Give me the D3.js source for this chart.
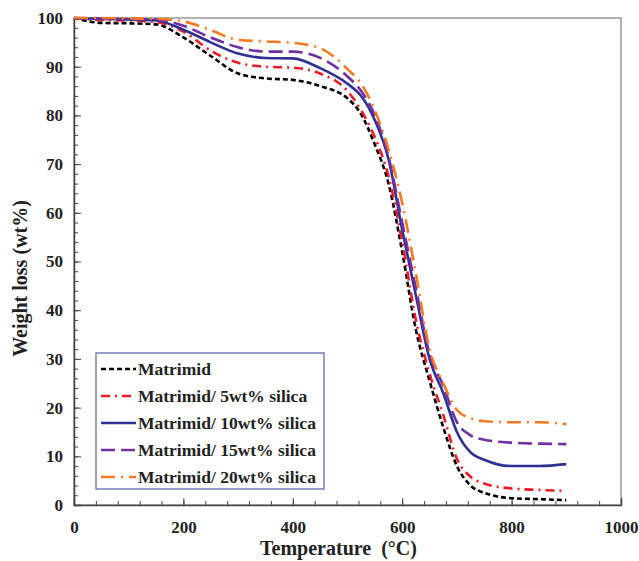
<!DOCTYPE html>
<html>
<head>
<meta charset="utf-8">
<script src="https://cdn.jsdelivr.net/npm/d3@7"></script>
<style>
  body { margin: 0; background: #fff; }
  text { font-family: "Liberation Serif", "Times New Roman", serif; font-weight: bold; }
</style>
</head>
<body>
<div id="chart"></div>
<script>
// temperature grid (°C)
var temps = [0, 50, 100, 150, 200, 250, 300, 350, 400, 450, 500, 525, 550, 575, 600, 625, 650, 675, 700, 725, 750, 800, 850, 900];

// weight (wt%) for each sample
var matrimid = [100, 99, 98.9, 98.7, 96, 92.2, 88.6, 87.6, 87.3, 86, 83.5, 80.2, 74, 66, 52, 36, 25.5, 16, 8, 4, 2.5, 1.4, 1.2, 1.0];
var silica5  = [100, 99.6, 99.5, 99.2, 97.2, 93.3, 90.8, 90, 89.8, 88.6, 85, 81, 75.5, 67.5, 54, 38, 27, 18.5, 9.5, 5.8, 4.4, 3.4, 3.1, 2.9];
var silica10 = [100, 99.8, 99.7, 99.5, 97.6, 95, 92.7, 91.8, 91.7, 89.7, 86.5, 84, 79, 71, 56.5, 43, 30, 23, 15, 10.8, 9.3, 8.0, 8.0, 8.4];
var silica15 = [100, 99.9, 99.8, 99.7, 98.4, 96, 94, 93.1, 93.1, 91.8, 88, 85, 80, 71.5, 58, 44.5, 31, 24.5, 17, 14.3, 13.4, 12.8, 12.6, 12.5];
var silica20 = [100, 100, 99.9, 99.8, 99.3, 97.5, 95.5, 95.2, 94.9, 93.8, 89.5, 86.5, 81, 73, 62, 47.5, 32, 25, 19.5, 17.8, 17.2, 17, 17, 16.6];

var seriesNames = ["Matrimid", "Matrimid/ 5wt% silica", "Matrimid/ 10wt% silica", "Matrimid/ 15wt% silica", "Matrimid/ 20wt% silica"];
var xTicks = [0, 200, 400, 600, 800, 1000];
var yTicks = [0, 10, 20, 30, 40, 50, 60, 70, 80, 90, 100];

var styles = [
  {color: "#000000", dash: "5,3"},
  {color: "#ed1c24", dash: "9,5,2,5"},
  {color: "#2e3192", dash: null},
  {color: "#7030a0", dash: "14,6"},
  {color: "#f47920", dash: "14,6,2,6"}
];
var allSeries = [matrimid, silica5, silica10, silica15, silica20];

// set the dimensions and margins of the graph
var margin = {top: 18, right: 18, bottom: 56, left: 74},
    width = 639 - margin.left - margin.right,
    height = 561 - margin.top - margin.bottom;

var svg = d3.select("#chart")
  .append("svg")
    .attr("width", 639)
    .attr("height", 561)
  .append("g")
    .attr("transform", "translate(" + margin.left + "," + margin.top + ")");

var x = d3.scaleLinear().domain([0, 1000]).range([0, width]);
var y = d3.scaleLinear().domain([0, 100]).range([height, 0]);

// frame on top and right
svg.append("rect")
  .attr("width", width).attr("height", height)
  .attr("fill", "none").attr("stroke", "#808080").attr("stroke-width", 1.2);

// minor ticks (inward)
svg.append("g")
  .attr("transform", "translate(0," + height + ")")
  .call(d3.axisBottom(x).tickValues(d3.range(0, 1001, 40)).tickSize(-4).tickFormat(""))
  .call(function(g) { g.select(".domain").remove(); });
svg.append("g")
  .call(d3.axisLeft(y).tickValues(d3.range(0, 101, 2)).tickSize(-4).tickFormat(""))
  .call(function(g) { g.select(".domain").remove(); });

// X axis
var xAxis = svg.append("g")
  .attr("transform", "translate(0," + height + ")")
  .call(d3.axisBottom(x).tickValues(xTicks).tickSize(-7).tickPadding(16).tickFormat(d3.format("d")));
xAxis.selectAll("text").attr("font-size", 17).attr("fill", "#222");

// Y axis
var yAxis = svg.append("g")
  .call(d3.axisLeft(y).tickValues(yTicks).tickSize(-7).tickPadding(11));
yAxis.selectAll("text").attr("font-size", 17).attr("fill", "#222");

svg.selectAll(".domain").attr("stroke", "#444").attr("stroke-width", 1.5);
svg.selectAll(".tick line").attr("stroke", "#444");

// axis titles
svg.append("text")
  .attr("x", width / 2 - 9)
  .attr("y", height + 50)
  .attr("text-anchor", "middle")
  .attr("font-size", 20)
  .attr("fill", "#222")
  .attr("xml:space", "preserve")
  .text("Temperature  (°C)");

svg.append("text")
  .attr("transform", "translate(" + (-47) + "," + (height / 2 + 17) + ") rotate(-90)")
  .attr("text-anchor", "middle")
  .attr("font-size", 20)
  .attr("fill", "#222")
  .text("Weight loss (wt%)");

// the lines
var line = d3.line()
  .x(function(d, i) { return x(temps[i]); })
  .y(function(d) { return y(d); })
  .curve(d3.curveMonotoneX);

allSeries.forEach(function(s, i) {
  svg.append("path")
    .datum(s)
    .attr("fill", "none")
    .attr("stroke", styles[i].color)
    .attr("stroke-width", 2.6)
    .attr("stroke-dasharray", styles[i].dash)
    .attr("d", line);
});

// legend
var lg = svg.append("g").attr("transform", "translate(22,335)");
lg.append("rect")
  .attr("width", 228).attr("height", 136)
  .attr("fill", "#fff").attr("stroke", "#5b5ba8").attr("stroke-width", 1.2);

seriesNames.forEach(function(name, i) {
  var yy = 16 + i * 27;
  lg.append("line")
    .attr("x1", 5).attr("x2", 40)
    .attr("y1", yy).attr("y2", yy)
    .attr("stroke", styles[i].color)
    .attr("stroke-width", 2.6)
    .attr("stroke-dasharray", styles[i].dash);
  lg.append("text")
    .attr("x", 42).attr("y", yy + 6)
    .attr("font-size", 17.5)
    .attr("fill", "#222")
    .text(name);
});
</script>
</body>
</html>
